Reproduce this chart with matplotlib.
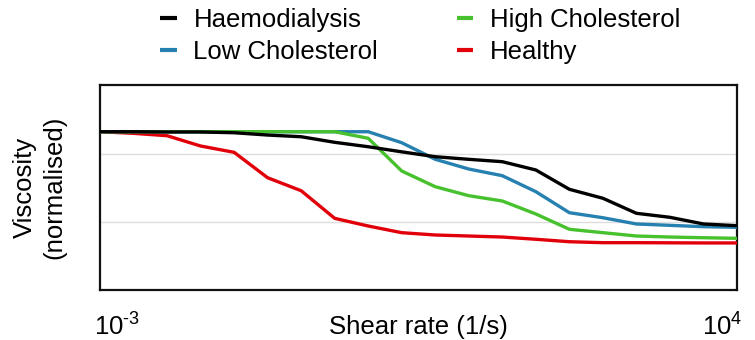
import matplotlib
matplotlib.use("Agg")
import matplotlib.pyplot as plt
import matplotlib.transforms as mtransforms

plt.rcParams['font.family'] = ['Liberation Sans', 'DejaVu Sans']
plt.rcParams['mathtext.fontset'] = 'custom'
plt.rcParams['mathtext.rm'] = 'Liberation Sans'
plt.rcParams['mathtext.it'] = 'Liberation Sans'

shear_rate = [1.000e-3, 2.336e-3, 5.456e-3, 1.274e-2, 2.976e-2, 6.952e-2, 0.1624,
              0.3793, 0.8859, 2.069, 4.833, 11.29, 26.37, 61.59, 143.8, 336.0,
              784.8, 1833.0, 4281.0, 10000.0]

haemodialysis = [2.328, 2.328, 2.324, 2.324, 2.313, 2.279, 2.254, 2.172, 2.107, 2.032,
                 1.960, 1.922, 1.887, 1.765, 1.481, 1.349, 1.128, 1.069, 0.971, 0.946]
low_cholesterol = [2.328, 2.328, 2.328, 2.328, 2.328, 2.328, 2.328, 2.328, 2.328, 2.166,
                   1.922, 1.779, 1.681, 1.446, 1.137, 1.063, 0.971, 0.951, 0.931, 0.922]
high_cholesterol = [2.328, 2.328, 2.328, 2.328, 2.328, 2.328, 2.328, 2.328, 2.231, 1.750,
                    1.519, 1.387, 1.309, 1.118, 0.893, 0.843, 0.794, 0.779, 0.769, 0.760]
healthy = [2.328, 2.304, 2.269, 2.118, 2.025, 1.651, 1.460, 1.054, 0.941, 0.843,
           0.809, 0.794, 0.779, 0.746, 0.710, 0.696, 0.696, 0.694, 0.692, 0.692]

series_labels = ["Haemodialysis", "Low Cholesterol", "High Cholesterol", "Healthy"]
x_tick_labels = [r"$10^{\text{-}3}$", r"$10^{4}$"]

colors = {"Haemodialysis": "#000000", "Low Cholesterol": "#2680b0",
          "High Cholesterol": "#47c12e", "Healthy": "#e1000a"}

FS = 18.5

fig = plt.figure(figsize=(7.55, 3.4), dpi=100)
ax = fig.add_axes([100/755, 50/340, 637/755, 205/340])

lw = 2.4
data = {"Haemodialysis": haemodialysis, "Low Cholesterol": low_cholesterol,
        "High Cholesterol": high_cholesterol, "Healthy": healthy}
zorders = {"Healthy": 3, "Low Cholesterol": 4, "High Cholesterol": 5, "Haemodialysis": 6}
handles = []
for name in series_labels:
    h, = ax.plot(shear_rate, data[name], color=colors[name], lw=lw,
                 zorder=zorders[name], label=name, solid_joinstyle='miter')
    handles.append(h)

ax.set_xscale('log')
ax.set_xlim(1e-3, 1e4)
ax.set_ylim(0, 3.015)
ax.set_yticks([1, 2])
ax.yaxis.grid(True, color='#dddddd', lw=1)
ax.set_axisbelow(True)
ax.tick_params(axis='y', length=0, labelleft=False)
ax.set_xticks([1e-3, 1e4])
ax.set_xticks([], minor=True)
ax.set_xticklabels(x_tick_labels, fontsize=FS)
ax.tick_params(axis='x', length=0, pad=17)
lbls = ax.get_xticklabels()
lbls[0].set_ha('left')
lbls[0].set_transform(lbls[0].get_transform() + mtransforms.ScaledTranslation(-6/100, 0, fig.dpi_scale_trans))
lbls[1].set_ha('right')
lbls[1].set_transform(lbls[1].get_transform() + mtransforms.ScaledTranslation(5/100, 0, fig.dpi_scale_trans))

for s in ax.spines.values():
    s.set_linewidth(1.6)
    s.set_color('#111111')

ax.set_xlabel("Shear rate (1/s)", fontsize=FS, va='center')
ax.xaxis.set_label_coords(0.5, -0.18)
ax.set_ylabel("Viscosity\n(normalised)", fontsize=FS, linespacing=1.3, va='center')
ax.yaxis.set_label_coords(-(100 - 40) / 637, 0.5)

leg = fig.legend(handles=handles, labels=series_labels, ncol=2, loc='upper left',
                 bbox_to_anchor=(150/755, 1.006), frameon=False, fontsize=FS,
                 handlelength=0.65, handletextpad=0.64, columnspacing=3.05,
                 labelspacing=0.3, borderaxespad=0)
for lh in leg.legend_handles:
    lh.set_solid_capstyle('butt')
    lh.set_linewidth(3.0)

fig.savefig("out.png", dpi=100)
